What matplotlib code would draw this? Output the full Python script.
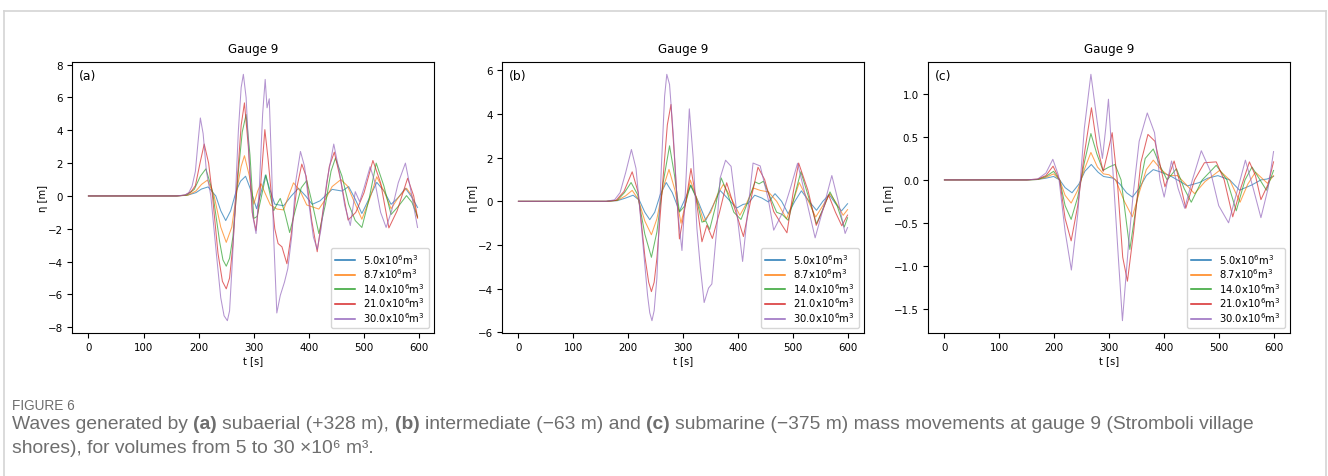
import matplotlib
matplotlib.use("Agg")
import matplotlib.pyplot as plt
from matplotlib.lines import Line2D

# ---------------- data ----------------
labels = [r"5.0x10$^6$m$^3$", r"8.7x10$^6$m$^3$", r"14.0x10$^6$m$^3$",
          r"21.0x10$^6$m$^3$", r"30.0x10$^6$m$^3$"]
colors = ["#1f77b4", "#ff7f0e", "#2ca02c", "#d62728", "#9467bd"]
panel_tags = ["(a)", "(b)", "(c)"]
xticks = [0, 100, 200, 300, 400, 500, 600]

# Panel (a) subaerial
a_t5 = [0, 160, 180, 195, 205, 217, 231, 240, 249, 258, 268, 276, 285, 294, 305, 313, 321, 329, 338, 354, 368, 381, 394, 406, 420, 442, 460, 472, 484, 496, 510, 523, 536, 549, 562, 575, 587, 597]
a_e5 = [0, 0, 0.05, 0.2, 0.42, 0.55, 0.0, -0.9, -1.5, -0.9, 0.3, 0.9, 1.2, 0.4, -0.78, 0.2, 1.27, 0.4, -0.5, -0.6, 0.0, 0.47, 0.0, -0.51, -0.3, 0.4, 0.3, 0.57, -0.2, -1.07, -0.1, 0.83, 0.3, -0.51, -0.1, 0.47, -0.1, -0.7]
a_t8 = [0, 160, 180, 195, 205, 216, 228, 240, 250, 260, 270, 277, 283, 292, 300, 307, 313, 320, 330, 342, 354, 363, 372, 384, 396, 418, 430, 442, 458, 470, 484, 496, 510, 523, 536, 549, 562, 577, 587, 597]
a_e8 = [0, 0, 0.04, 0.3, 0.7, 0.97, 0.0, -1.9, -2.83, -1.9, 0.5, 1.8, 2.45, 1.2, -0.5, 0.3, 0.75, 0.2, -0.55, -0.8, -0.85, 0.0, 0.8, 0.3, -0.55, -0.8, -0.2, 0.57, 1.0, 0.6, -0.5, -1.42, -0.2, 1.17, 0.3, -0.78, -0.1, 0.47, 0.0, -1.35]
a_t14 = [0, 160, 178, 192, 203, 213, 225, 238, 244, 250, 256, 262, 272, 279, 286, 293, 300, 306, 314, 322, 330, 336, 342, 348, 356, 365, 375, 386, 396, 407, 418, 430, 440, 448, 460, 472, 484, 496, 509, 522, 536, 549, 563, 577, 587, 597]
a_e14 = [0, 0, 0.05, 0.4, 1.2, 1.65, 0.3, -2.8, -3.9, -4.28, -3.8, -2.5, 1.5, 3.9, 4.96, 2.5, -1.37, -1.25, 0.0, 1.28, 0.0, -0.9, -0.5, -0.15, -1.0, -2.23, -0.9, 0.5, 0.94, -0.6, -2.29, -0.5, 1.5, 2.3, 1.2, -0.5, -1.5, -1.92, -0.2, 2.0, 0.6, -1.13, -0.6, 0.02, -0.4, -1.27]
a_t21 = [0, 160, 175, 186, 194, 203, 210, 218, 225, 235, 243, 250, 256, 262, 270, 277, 283, 290, 297, 304, 312, 320, 326, 333, 338, 344, 351, 360, 368, 378, 387, 395, 405, 415, 425, 437, 446, 458, 471, 485, 500, 516, 530, 545, 560, 579, 590, 597]
a_e21 = [0, 0, 0.05, 0.25, 0.63, 2.1, 3.16, 2.0, 0.0, -3.5, -5.2, -5.66, -5.0, -3.0, 1.0, 4.3, 5.67, 3.0, -1.0, -2.1, 0.5, 4.04, 2.2, -0.35, -2.0, -2.9, -3.1, -4.13, -2.3, 0.5, 1.94, 1.2, -1.5, -3.4, -1.0, 1.8, 2.67, 0.9, -1.47, -1.0, 0.2, 2.16, 0.8, -1.95, -0.9, 1.08, 0.0, -1.33]
a_t30 = [0, 160, 175, 182, 188, 194, 198, 203, 208, 214, 222, 232, 240, 246, 252, 256, 261, 266, 272, 277, 281, 286, 292, 298, 304, 310, 316, 320.6, 324, 328, 332, 336, 341.7, 348, 355.6, 361.6, 369, 376, 384.6, 392, 400, 408, 415, 422, 432, 445, 455, 465, 475, 484, 492, 500, 511, 520, 530, 540, 550, 562, 575, 585, 597]
a_e30 = [0, 0, 0.06, 0.2, 0.6, 1.5, 3.0, 4.75, 3.8, 1.5, 0.0, -3.5, -6.2, -7.3, -7.6, -7.0, -4.0, -0.5, 4.0, 6.6, 7.41, 6.0, 2.0, -1.2, -2.29, 0.5, 5.0, 7.1, 5.37, 5.92, 2.0, -2.5, -7.13, -6.06, -5.25, -4.43, -2.39, 0.88, 2.71, 1.8, -0.5, -2.5, -3.25, -2.0, 0.8, 3.16, 1.5, -0.6, -1.8, 0.26, -0.35, 0.5, 1.78, 0.8, -1.0, -1.92, -0.9, 0.8, 2.0, 0.3, -1.92]

# Panel (b) intermediate
b_t5 = [0, 160, 180, 195, 208.7, 220, 230, 239, 248, 258, 269, 280, 293, 303, 314, 327, 341, 354, 367, 382, 397, 409, 418, 430, 443, 455, 467, 479, 491, 503, 515, 529, 542.5, 554, 565.5, 577, 588, 599]
b_e5 = [0, 0, 0.03, 0.15, 0.28, 0.05, -0.5, -0.84, -0.5, 0.3, 0.86, 0.4, -0.46, 0.1, 0.74, 0.0, -0.87, -0.2, 0.5, 0.1, -0.31, -0.14, -0.1, 0.28, 0.15, -0.03, 0.35, 0.0, -0.57, 0.0, 0.48, 0.0, -0.41, 0.0, 0.31, -0.1, -0.44, -0.11]
b_t8 = [0, 160, 180, 195, 207, 218, 230, 242, 252, 263, 274, 285, 295.8, 304, 313, 325, 337, 350, 362, 373, 388, 403, 415, 427.6, 440, 455, 470, 488, 500, 511, 526, 541, 554, 567, 579, 591, 599]
b_e8 = [0, 0, 0.04, 0.25, 0.5, 0.1, -0.9, -1.53, -0.8, 0.6, 1.46, 0.5, -1.0, -0.1, 0.97, 0.1, -0.92, -0.5, 0.3, 0.78, 0.1, -0.64, -0.1, 0.61, 0.5, 0.43, 0.0, -0.8, 0.0, 0.86, 0.1, -0.72, -0.2, 0.35, -0.1, -0.64, -0.38]
b_t14 = [0, 160, 180, 193, 205, 217, 230, 242, 252, 263, 275, 284, 293, 303, 313, 323, 334, 341, 348, 358, 369, 380, 392, 405, 418, 430.6, 438, 446, 458, 470, 480, 491, 503, 514, 528, 542.5, 555, 567, 580, 593, 599]
b_e14 = [0, 0, 0.05, 0.4, 0.86, 0.3, -1.5, -2.56, -1.4, 0.8, 2.54, 1.2, -0.49, -0.2, 0.74, 0.2, -0.95, -0.9, -1.29, -0.3, 1.07, 0.4, -0.5, -0.83, 0.0, 0.89, 0.8, 0.92, 0.2, -0.5, -0.6, -0.87, 0.3, 1.35, 0.2, -1.03, -0.3, 0.43, -0.2, -1.18, -0.75]
b_t21 = [0, 160, 178, 192, 207, 218, 230, 237, 242, 247, 252, 263, 271, 277.6, 284, 293, 303, 314, 324, 334, 343, 353, 366, 379, 392, 409.5, 424, 436, 448, 464.6, 479.7, 488.7, 500, 510, 527, 542, 554, 564.4, 577, 588.6, 599]
b_e21 = [0, 0, 0.05, 0.45, 1.35, 0.4, -2.5, -3.7, -4.13, -3.7, -2.6, 1.0, 3.5, 4.43, 2.0, -1.72, -0.3, 1.5, 0.0, -1.85, -1.09, -1.7, -0.5, 0.85, -0.2, -1.61, 0.2, 1.56, 1.0, -0.47, -1.09, -1.44, 0.4, 1.75, 0.5, -1.1, -0.4, 0.29, -0.5, -1.12, -0.63]
b_t30 = [0, 160, 175, 185, 195, 205.6, 214, 225, 235, 239, 243, 247, 252, 260, 266, 270, 275, 282, 290, 297.6, 304, 311, 318, 324.8, 331, 338, 346, 352, 361, 367, 377, 387, 395, 408, 418, 427, 440, 455, 464.6, 482, 495, 508, 520, 540, 555, 570.4, 582, 594.6, 599]
b_e30 = [0, 0, 0.07, 0.4, 1.3, 2.37, 1.5, -1.5, -4.3, -5.1, -5.46, -5.0, -3.5, 1.5, 4.8, 5.81, 5.35, 3.0, -0.5, -2.25, 0.5, 4.23, 2.0, -1.24, -3.0, -4.63, -3.97, -3.78, -1.24, 1.06, 1.88, 1.6, 0.0, -2.75, -0.3, 1.75, 1.62, 0.06, -1.32, -0.45, 0.6, 1.74, 0.5, -1.67, -0.3, 1.18, 0.0, -1.47, -1.2]

# Panel (c) submarine
c_t5 = [0, 150, 170, 185, 199, 210, 220, 232.6, 245, 256, 267.7, 280, 290, 308, 320, 332, 342.6, 355, 368, 380.7, 395, 411, 430, 443, 465, 480, 498.5, 520, 538, 560, 577, 588, 600]
c_e5 = [0, 0, 0.005, 0.02, 0.04, 0.0, -0.09, -0.15, -0.05, 0.1, 0.18, 0.09, 0.04, 0.02, -0.05, -0.15, -0.2, -0.1, 0.05, 0.12, 0.09, 0.05, -0.02, -0.07, -0.03, 0.02, 0.05, 0.0, -0.12, -0.06, 0.0, 0.01, 0.04]
c_t8 = [0, 150, 170, 185, 199, 210, 220, 231, 243, 255, 267, 279, 290, 300, 312, 328, 342.6, 355, 368, 380.7, 395, 408, 425, 440, 456, 475, 501.5, 520, 539, 553, 567, 589, 600]
c_e8 = [0, 0, 0.005, 0.03, 0.07, 0.0, -0.18, -0.27, -0.12, 0.12, 0.32, 0.15, 0.07, 0.06, 0.0, -0.25, -0.43, -0.15, 0.12, 0.23, 0.12, 0.05, 0.05, -0.05, -0.16, -0.02, 0.11, 0.0, -0.26, -0.05, 0.09, -0.04, 0.05]
c_t14 = [0, 150, 170, 185, 199, 210, 220, 231, 243, 255, 267, 278, 289, 300, 311, 322, 338, 352, 366, 380.7, 394, 406, 423, 437, 450, 470, 495.5, 515, 532, 548, 560.7, 587, 600]
c_e14 = [0, 0, 0.005, 0.04, 0.1, 0.0, -0.3, -0.46, -0.2, 0.2, 0.54, 0.3, 0.11, 0.15, 0.18, 0.0, -0.81, -0.2, 0.25, 0.36, 0.15, 0.0, 0.13, -0.1, -0.26, 0.0, 0.17, 0.0, -0.36, 0.0, 0.15, -0.12, 0.11]
c_t21 = [0, 150, 170, 185, 198, 210, 220, 231, 243, 255, 268, 278, 289.5, 297, 305.8, 315, 325, 333.6, 345, 358, 371, 383.7, 402, 418.7, 430, 440, 456, 474, 495.5, 510, 525.6, 540, 556, 567, 577, 590, 600]
c_e21 = [0, 0, 0.01, 0.05, 0.16, 0.0, -0.45, -0.71, -0.3, 0.3, 0.84, 0.4, 0.1, 0.3, 0.55, 0.0, -0.9, -1.18, -0.6, 0.2, 0.53, 0.45, -0.08, 0.22, -0.05, -0.33, 0.0, 0.2, 0.21, 0.0, -0.43, -0.1, 0.21, 0.05, -0.23, -0.05, 0.21]
c_t30 = [0, 150, 170, 185, 197.6, 208, 220, 231.4, 243, 255, 267, 278, 288, 294, 299, 310.6, 317, 324.5, 335, 344, 355, 369.8, 383, 393, 400.6, 414, 426, 438, 452, 468.3, 485, 500, 518, 535, 548.7, 563, 577, 590, 600]
c_e30 = [0, 0, 0.01, 0.08, 0.24, 0.05, -0.6, -1.05, -0.4, 0.6, 1.23, 0.7, 0.25, 0.6, 0.94, -0.25, -0.9, -1.64, -0.8, -0.17, 0.45, 0.78, 0.55, 0.0, -0.2, 0.22, -0.1, -0.33, 0.0, 0.34, 0.1, -0.3, -0.5, -0.1, 0.23, -0.1, -0.44, -0.1, 0.33]

panels = [
    [(a_t5, a_e5), (a_t8, a_e8), (a_t14, a_e14), (a_t21, a_e21), (a_t30, a_e30)],
    [(b_t5, b_e5), (b_t8, b_e8), (b_t14, b_e14), (b_t21, b_e21), (b_t30, b_e30)],
    [(c_t5, c_e5), (c_t8, c_e8), (c_t14, c_e14), (c_t21, c_e21), (c_t30, c_e30)],
]

# ---------------- figure ----------------
W, H = 1328, 477
plt.rcParams["font.family"] = ["DejaVu Sans"]
plt.rcParams["font.size"] = 7.2
fig = plt.figure(figsize=(W / 100, H / 100), dpi=100)

lefts_px = [72, 502, 928]
top_px, bot_px, wid_px = 63, 334, 362
for i, series in enumerate(panels):
    ax = fig.add_axes([lefts_px[i] / W, 1 - bot_px / H, wid_px / W, (bot_px - top_px) / H])
    for (t, e), c in zip(series, colors):
        ax.plot(t, e, color=c, lw=0.75, alpha=0.7)
    ax.set_xticks(xticks)
    ax.set_title("Gauge 9", fontsize=8.6, pad=7)
    ax.set_xlabel("t [s]", labelpad=2)
    ax.set_ylabel("η [m]", labelpad=0)
    ax.text(0.02, 0.952, panel_tags[i], transform=ax.transAxes, va="center", ha="left", fontsize=8.9)
    handles = [Line2D([], [], color=c, lw=1.1) for c in colors]
    ax.legend(handles, labels, loc="lower right", fontsize=7.2, framealpha=0.8,
              borderaxespad=0.5, labelspacing=0.08)
    ax.tick_params(length=3.5, width=0.8, pad=3, labelsize=7.4)

# page frame
frame_c = "#d4d4d4"
fig.add_artist(Line2D([4 / W, 4 / W], [0, 1 - 12 / H], transform=fig.transFigure, color=frame_c, lw=1.2))
fig.add_artist(Line2D([4 / W, 1326 / W], [1 - 12 / H, 1 - 12 / H], transform=fig.transFigure, color=frame_c, lw=1.2))
fig.add_artist(Line2D([1326 / W, 1326 / W], [0, 1 - 12 / H], transform=fig.transFigure, color=frame_c, lw=1.2))

# caption
cap_color = "#6e6e6e"
cap_font = ["Liberation Sans", "DejaVu Sans"]
renderer = fig.canvas.get_renderer()


def text_width(s, size, weight):
    t = fig.text(0, 0, s, family=cap_font, fontsize=size, fontweight=weight)
    w = t.get_window_extent(renderer).width
    t.remove()
    return w


def draw_runs(x_px, y_px, runs, size):
    space = text_width("x x", size, "normal") - text_width("xx", size, "normal")
    x = x_px
    for s, bold in runs:
        lead = len(s) - len(s.lstrip(" "))
        trail = len(s) - len(s.rstrip(" "))
        core = s.strip(" ")
        x += lead * space
        wt = "bold" if bold else "normal"
        fig.text(x / W, 1 - y_px / H, core, color=cap_color, family=cap_font,
                 fontsize=size, fontweight=wt, va="baseline")
        x += text_width(core, size, wt) + trail * space


fig_label = "FIGURE 6"
fig_size = 10.0 * 63 / text_width(fig_label, 10.0, "normal")
fig.text(12 / W, 1 - 410 / H, fig_label, color=cap_color, family=cap_font,
         fontsize=fig_size, va="baseline")

line1 = [("Waves generated by ", False), ("(a)", True), (" subaerial (+328 m), ", False),
         ("(b)", True), (" intermediate (\u221263 m) and ", False), ("(c)", True),
         (" submarine (\u2212375 m) mass movements at gauge 9 (Stromboli village", False)]
line2 = [("shores), for volumes from 5 to 30 \u00d710\u2076 m\u00b3.", False)]

# size so the first line spans the caption width of the reference
base = 12.0
sp = text_width("x x", base, "normal") - text_width("xx", base, "normal")
tot = 0
for s, b in line1:
    tot += text_width(s.strip(" "), base, "bold" if b else "normal")
    tot += (len(s) - len(s.strip(" "))) * sp
cap_size = base * 1241 / tot

draw_runs(12, 429, line1, cap_size)
draw_runs(12, 453, line2, cap_size)

fig.savefig("out.png", dpi=100)
